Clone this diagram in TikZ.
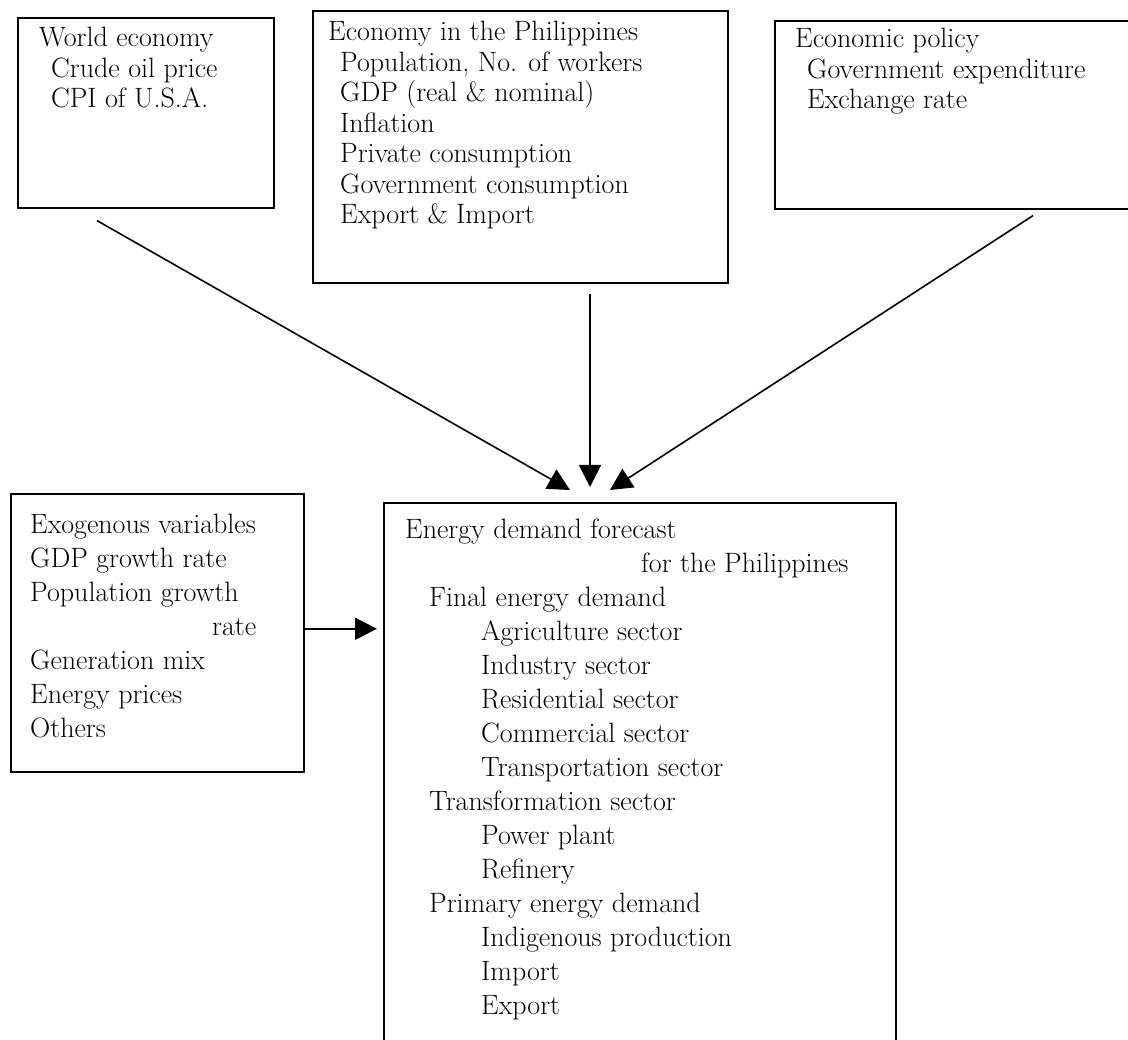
\documentclass[tikz,border=0pt]{standalone}
\usepackage{fontspec}
\usetikzlibrary{arrows.meta,positioning}
\begin{document}
\begin{tikzpicture}[x=1pt, y=-1pt,
  box/.style={draw, line width=1.6pt, anchor=north west, inner sep=0pt},
  txt/.style={anchor=north west, inner sep=0pt, align=left, font=\fontsize{28}{30.5}\selectfont},
  txtlow/.style={txt, font=\fontsize{28}{34}\selectfont},
  arr/.style={-{Triangle[length=22pt,width=22pt]}, line width=1.6pt}]

  \useasboundingbox (0,0) rectangle (1128,1040);

  % Top row
  \node[box, minimum width=256pt, minimum height=190pt] (world) at (17,17) {};
  \node[box, minimum width=415pt, minimum height=272pt] (econ) at (312,10) {};
  \node[box, minimum width=370pt, minimum height=188pt] (policy) at (774,20) {};

  % Bottom row
  \node[box, minimum width=293pt, minimum height=278pt] (exo) at (10,493) {};
  \node[box, minimum width=512pt, minimum height=560pt] (energy) at (383,502) {};

  % Texts
  \node[txt, below right=10pt and 22pt of world.north west, anchor=north west] (worldtxt)
    {World economy\\\hspace*{12pt}Crude oil price\\\hspace*{12pt}CPI of U.S.A.};
  \node[txt, below right=11pt and 16pt of econ.north west, anchor=north west] (econtxt)
    {Economy in the Philippines\\
     \hspace*{12pt}Population, No. of workers\\
     \hspace*{12pt}GDP (real \& nominal)\\
     \hspace*{12pt}Inflation\\
     \hspace*{12pt}Private consumption\\
     \hspace*{12pt}Government consumption\\
     \hspace*{12pt}Export \& Import};
  \node[txt, below right=8pt and 21pt of policy.north west, anchor=north west] (policytxt)
    {Economic policy\\\hspace*{12pt}Government expenditure\\\hspace*{12pt}Exchange rate};
  \node[txtlow, below right=21pt and 20pt of exo.north west, anchor=north west] (exotxt)
    {Exogenous variables\\
     GDP growth rate\\
     Population growth\\
     \hspace*{182pt}rate\\
     Generation mix\\
     Energy prices\\
     Others};
  \node[txtlow, below right=17pt and 22pt of energy.north west, anchor=north west] (energytxt)
    {Energy demand forecast\\
     \hspace*{236pt}for the Philippines\\
     \hspace*{24pt}Final energy demand\\
     \hspace*{76pt}Agriculture sector\\
     \hspace*{76pt}Industry sector\\
     \hspace*{76pt}Residential sector\\
     \hspace*{76pt}Commercial sector\\
     \hspace*{76pt}Transportation sector\\
     \hspace*{24pt}Transformation sector\\
     \hspace*{76pt}Power plant\\
     \hspace*{76pt}Refinery\\
     \hspace*{24pt}Primary energy demand\\
     \hspace*{76pt}Indigenous production\\
     \hspace*{76pt}Import\\
     \hspace*{76pt}Export};

  % Arrow ends
  \coordinate[below right=12pt and 80pt of world.south west] (W0);
  \coordinate[above right=12pt and 187pt of energy.north west] (W1);
  \coordinate[below right=10pt and 278pt of econ.south west] (E0);
  \coordinate[above right=15pt and 207pt of energy.north west] (E1);
  \coordinate[below right=6pt and 259pt of policy.south west] (P0);
  \coordinate[above right=12pt and 227pt of energy.north west] (P1);
  \coordinate[above=4pt of exo.east] (X0);

  % Arrows into the forecast
  \draw[arr] (W0) -- (W1);
  \draw[arr] (E0) -- (E1);
  \draw[arr] (P0) -- (P1);
  \draw[arr, shorten >=6pt] (X0) -- (X0 -| energy.west);

\end{tikzpicture}
\end{document}
